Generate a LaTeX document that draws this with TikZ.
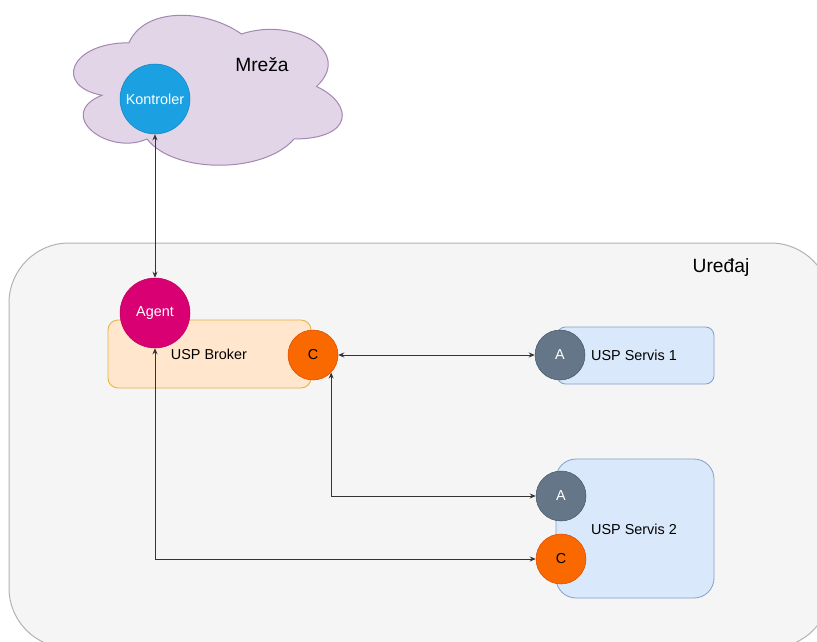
\documentclass[tikz,border=0pt]{standalone}
\usepackage{fontspec}
\setmainfont{Liberation Sans}
\usetikzlibrary{arrows.meta}
\definecolor{devfill}{HTML}{F5F5F5}
\definecolor{devdraw}{HTML}{B3B3B3}
\definecolor{cloudfill}{HTML}{E1D5E7}
\definecolor{clouddraw}{HTML}{9673A6}
\definecolor{kfill}{HTML}{1BA1E2}
\definecolor{kdraw}{HTML}{006EAF}
\definecolor{agfill}{HTML}{D80073}
\definecolor{agdraw}{HTML}{A50040}
\definecolor{brfill}{HTML}{FFE6CC}
\definecolor{brdraw}{HTML}{D79B00}
\definecolor{cfill}{HTML}{FA6800}
\definecolor{cdraw}{HTML}{C73500}
\definecolor{svfill}{HTML}{DAE8FC}
\definecolor{svdraw}{HTML}{6C8EBF}
\definecolor{afill}{HTML}{647687}
\definecolor{adraw}{HTML}{314354}
\definecolor{linec}{HTML}{333333}
\tikzset{
  lbl/.style={font=\fontsize{14.4}{16}\selectfont, inner sep=0pt},
  biglbl/.style={font=\fontsize{19.2}{22}\selectfont, inner sep=0pt},
  ball/.style={circle, draw, line width=0.5pt, inner sep=0pt, font=\fontsize{14.4}{16}\selectfont},
  kball/.style={ball, fill=kfill, draw=kdraw!60!kfill, text=white, minimum size=70pt},
  agball/.style={ball, fill=agfill, draw=agdraw!60!agfill, text=white, minimum size=70pt},
  cball/.style={ball, fill=cfill, draw=cdraw!60!cfill, text=black, minimum size=50pt},
  aball/.style={ball, fill=afill, draw=adraw!60!afill, text=white, minimum size=50pt},
  brbox/.style={draw=brdraw!70!brfill, fill=brfill, line width=0.8pt},
  svbox/.style={draw=svdraw!80!svfill, fill=svfill, line width=0.8pt},
  conn/.style={draw=linec, line width=0.8pt, {Stealth[length=6pt,width=5pt]}-{Stealth[length=6pt,width=5pt]}}
}
\begin{document}
\begin{tikzpicture}[x=1pt,y=-1pt]
\useasboundingbox (0,0) rectangle (817,642);
\fill[white] (0,0) rectangle (817,642);
% device container
\begin{scope}
\clip (0,0) rectangle (817,642);
\draw[devdraw, fill=devfill, line width=1pt, rounded corners=60pt] (9,243) rectangle (830.6,648);
\end{scope}
\node[biglbl] (uredaj) at (721,268) {Uređaj};
% cloud
\draw[clouddraw!80!cloudfill, fill=cloudfill, line width=1pt]
  (129,42.75) .. controls (69,42.75) and (54,86.5) .. (102,95.25)
  .. controls (54,114.5) and (108,156.5) .. (147,139)
  .. controls (174,174) and (264,174) .. (294,139)
  .. controls (354,139) and (354,104) .. (316.5,86.5)
  .. controls (354,51.5) and (294,16.5) .. (241.5,34)
  .. controls (204,7.75) and (144,7.75) .. (129,42.75) -- cycle;
\node[biglbl] (mreza) at (262,65) {Mreža};
\node[kball] (kon) at (155,99) {Kontroler};
% boxes
\draw[brbox, rounded corners=10pt] (108,320) rectangle (311,388);
\node[lbl] (brlbl) at (209,354) {USP Broker};
\draw[svbox, rounded corners=8.5pt] (557,327) rectangle (714,384);
\node[lbl] (s1lbl) at (634,355) {USP Servis 1};
\draw[svbox, rounded corners=20pt] (556,459) rectangle (714,598);
\node[lbl] (s2lbl) at (634,529) {USP Servis 2};
% circles
\node[agball] (agent) at (155,313) {Agent};
\node[cball] (bc) at (313,355) {C};
\node[aball] (a1) at (560,355) {A};
\node[aball] (a2) at (561,496) {A};
\node[cball] (c2) at (561,559) {C};
% connectors
\draw[conn] (kon) -- (agent);
\draw[conn] (bc) -- (a1);
\draw[conn] (a2) -| (bc.-44);
\draw[conn] (agent) |- (c2);
\end{tikzpicture}
\end{document}
